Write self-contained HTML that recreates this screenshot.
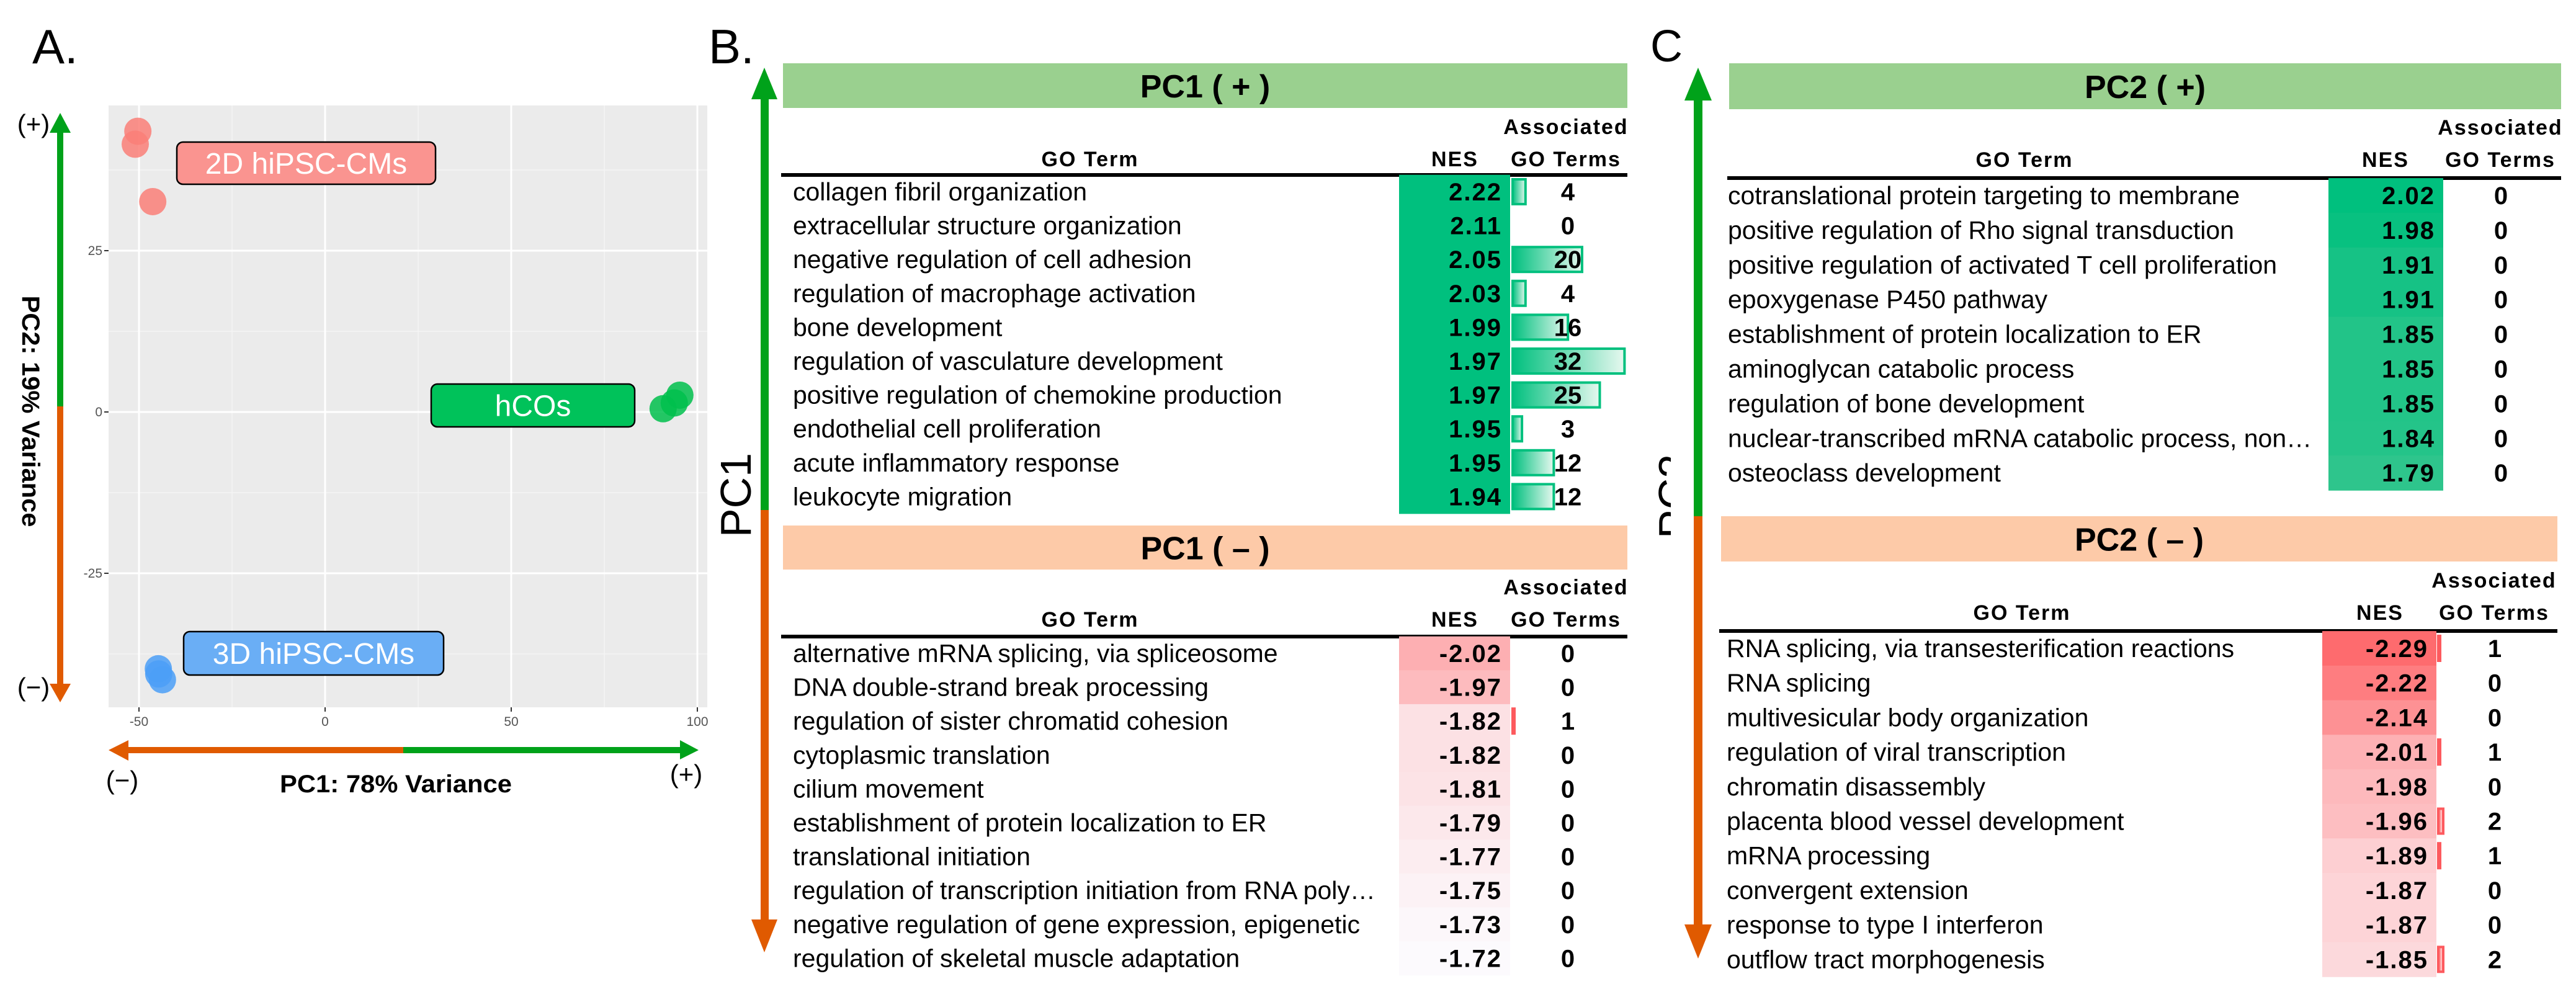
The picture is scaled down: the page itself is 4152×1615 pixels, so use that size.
<!DOCTYPE html>
<html><head><meta charset="utf-8"><style>
html,body{margin:0;padding:0;background:#fff;}
svg{display:block;font-family:"Liberation Sans",sans-serif;}
</style></head><body>
<svg id="fig" xmlns="http://www.w3.org/2000/svg" width="4152" height="1615" viewBox="0 0 4152 1615">
<rect x="0" y="0" width="4152" height="1615" fill="#fff"/>
<!-- Panel letters -->
<text x="52" y="102" font-size="78">A.</text>
<text x="1142" y="102" font-size="78">B.</text>
<text x="2660" y="99" font-size="72">C</text>

<!-- Panel A plot -->
<g id="pca">
<rect x="175" y="170" width="965" height="970" fill="#ebebeb"/>
<g id="grid"></g>
<g id="ticks"></g>
<g id="pts"></g>
<g id="labs"></g>
</g>
<!-- Panel A axes arrows -->
<g>
<rect x="92" y="212" width="10" height="445" fill="#00a21a"/>
<rect x="92" y="655" width="10" height="450" fill="#e05a00"/>
<polygon points="97,182 80,214 114,214" fill="#00a21a"/>
<polygon points="97,1132 80,1102 114,1102" fill="#e05a00"/>
</g>
<text x="54" y="214" font-size="42" text-anchor="middle">(+)</text>
<text x="54" y="1122" font-size="42" text-anchor="middle">(−)</text>
<text transform="translate(36,663) rotate(90)" font-size="40" font-weight="bold" text-anchor="middle" textLength="373" lengthAdjust="spacingAndGlyphs">PC2: 19% Variance</text>
<g>
<rect x="205" y="1204" width="447" height="10" fill="#e05a00"/>
<rect x="650" y="1204" width="450" height="10" fill="#00a21a"/>
<polygon points="175,1209 207,1193 207,1226" fill="#e05a00"/>
<polygon points="1126,1209 1096,1193 1096,1224" fill="#00a21a"/>
</g>
<text x="197" y="1272" font-size="42" text-anchor="middle">(−)</text>
<text x="1106" y="1262" font-size="42" text-anchor="middle">(+)</text>
<text x="638" y="1277" font-size="40" font-weight="bold" text-anchor="middle" textLength="374" lengthAdjust="spacingAndGlyphs">PC1: 78% Variance</text>

<!-- Panel B arrow -->
<g>
<rect x="1226" y="150" width="13" height="674" fill="#00a21a"/>
<rect x="1226" y="822" width="13" height="662" fill="#e05a00"/>
<polygon points="1232,109 1211,160 1253,160" fill="#00a21a"/>
<polygon points="1232,1535 1211,1482 1253,1482" fill="#e05a00"/>
</g>
<text transform="translate(1210,798) rotate(-90)" font-size="70" text-anchor="middle">PC1</text>

<!-- Panel C arrow -->
<g>
<rect x="2730" y="150" width="14" height="684" fill="#00a21a"/>
<rect x="2730" y="832" width="14" height="662" fill="#e05a00"/>
<polygon points="2737,109 2715,162 2759,162" fill="#00a21a"/>
<polygon points="2737,1545 2715,1490 2759,1490" fill="#e05a00"/>
</g>
<svg x="2660" y="700" width="33" height="200" overflow="hidden">
<text transform="translate(62,100) rotate(-90)" font-size="70" text-anchor="middle">PC2</text>
</svg>

<g id="tables"></g>
</svg>
<script>
// ---------- Panel A data ----------
const xTicks = [-50, 0, 50, 100];
const yTicks = [25, 0, -25];
const xMinor = [-25, 25, 75];
const yMinor = [37.5, 12.5, -12.5, -37.5];
const groups = ["2D hiPSC-CMs", "hCOs", "3D hiPSC-CMs"];
const pcX2D = [-50.3, -51.0, -46.3];
const pcY2D = [43.5, 41.5, 32.6];
const pcXhCO = [90.8, 95.3, 93.8];
const pcYhCO = [0.5, 2.6, 1.4];
const pcX3D = [-44.8, -43.7, -44.7];
const pcY3D = [-39.8, -41.5, -40.6];

// ---------- Table data ----------
const pc1PosTerms = ["collagen fibril organization","extracellular structure organization","negative regulation of cell adhesion","regulation of macrophage activation","bone development","regulation of vasculature development","positive regulation of chemokine production","endothelial cell proliferation","acute inflammatory response","leukocyte migration"];
const pc1PosNES = [2.22,2.11,2.05,2.03,1.99,1.97,1.97,1.95,1.95,1.94];
const pc1PosAssoc = [4,0,20,4,16,32,25,3,12,12];
const pc1NegTerms = ["alternative mRNA splicing, via spliceosome","DNA double-strand break processing","regulation of sister chromatid cohesion","cytoplasmic translation","cilium movement","establishment of protein localization to ER","translational initiation","regulation of transcription initiation from RNA poly…","negative regulation of gene expression, epigenetic","regulation of skeletal muscle adaptation"];
const pc1NegNES = [-2.02,-1.97,-1.82,-1.82,-1.81,-1.79,-1.77,-1.75,-1.73,-1.72];
const pc1NegAssoc = [0,0,1,0,0,0,0,0,0,0];
const pc2PosTerms = ["cotranslational protein targeting to membrane","positive regulation of Rho signal transduction","positive regulation of activated T cell proliferation","epoxygenase P450 pathway","establishment of protein localization to ER","aminoglycan catabolic process","regulation of bone development","nuclear-transcribed mRNA catabolic process, non…","osteoclass development"];
const pc2PosNES = [2.02,1.98,1.91,1.91,1.85,1.85,1.85,1.84,1.79];
const pc2PosAssoc = [0,0,0,0,0,0,0,0,0];
const pc2NegTerms = ["RNA splicing, via transesterification reactions","RNA splicing","multivesicular body organization","regulation of viral transcription","chromatin disassembly","placenta blood vessel development","mRNA processing","convergent extension","response to type I interferon","outflow tract morphogenesis"];
const pc2NegNES = [-2.29,-2.22,-2.14,-2.01,-1.98,-1.96,-1.89,-1.87,-1.87,-1.85];
const pc2NegAssoc = [1,0,0,1,0,2,1,0,0,2];

const NS = "http://www.w3.org/2000/svg";
function mk(parent, tag, attrs, txt){
  const e = document.createElementNS(NS, tag);
  for (const k in attrs) e.setAttribute(k, attrs[k]);
  if (txt !== undefined) e.textContent = txt;
  parent.appendChild(e);
  return e;
}
// axis functions
const sx = v => 524 + 6.0 * v;
const sy = v => 664 - 10.4 * v;

const grid = document.getElementById('grid');
xMinor.forEach(v => {
  const l = mk(grid, 'line', {x1:sx(v), x2:sx(v), y1:170, y2:1140, stroke:'#f5f5f5', 'stroke-width':1.5});
  
  
});
yMinor.forEach(v => {
  const l = mk(grid, 'line', {x1:175, x2:1140, y1:sy(v), y2:sy(v), stroke:'#f5f5f5', 'stroke-width':1.5});
  
  
});
const ticks = document.getElementById('ticks');
xTicks.forEach(v => {
  const l = mk(grid, 'line', {x1:sx(v), x2:sx(v), y1:170, y2:1140, stroke:'#fff', 'stroke-width':3});
  
  
  const t = mk(ticks, 'line', {x1:sx(v), x2:sx(v), y1:1140, y2:1147, stroke:'#333', 'stroke-width':2});
  
  
  const lb = mk(ticks, 'text', {x:sx(v), y:1170, 'font-size':21, fill:'#555', 'text-anchor':'middle'}, String(v));
  
  
});
yTicks.forEach(v => {
  const l = mk(grid, 'line', {x1:175, x2:1140, y1:sy(v), y2:sy(v), stroke:'#fff', 'stroke-width':3});
  
  
  const t = mk(ticks, 'line', {x1:168, x2:175, y1:sy(v), y2:sy(v), stroke:'#333', 'stroke-width':2});
  
  
  const lb = mk(ticks, 'text', {x:165, y:sy(v)+7, 'font-size':21, fill:'#555', 'text-anchor':'end'}, String(v));
  
  
});

const pts = document.getElementById('pts');
const series = [[pcX2D, pcY2D, '#fa7f78'], [pcXhCO, pcYhCO, '#00bf4c'], [pcX3D, pcY3D, '#4b9ff7']];
series.forEach((s, gi) => {
  s[0].forEach((xv, i) => {
    const c = mk(pts, 'circle', {cx:sx(xv), cy:sy(s[1][i]), r:22, fill:s[2], 'fill-opacity':0.85});
    
    
  });
});
// group labels
const labs = document.getElementById('labs');
const labBoxes = [[285,229,417,68,'#fa9490'],[695,619,328,69,'#00c25a'],[296,1018,419,70,'#6aaef5']];
groups.forEach((g, i) => {
  const b = labBoxes[i];
  const r = mk(labs, 'rect', {x:b[0], y:b[1], width:b[2], height:b[3], rx:10, fill:b[4], stroke:'#000', 'stroke-width':2.5});
  
  
  const t = mk(labs, 'text', {x:b[0]+b[2]/2, y:b[1]+b[3]/2+17, 'font-size':48, fill:'#fff', 'text-anchor':'middle'}, g);
  
  
});

// ---------- Tables ----------
const tables = document.getElementById('tables');
function mix(a, b, t){ return 'rgb(' + a.map((v,i)=>Math.round(v+(b[i]-v)*t)).join(',') + ')'; }
function negColor(v){ const t = Math.min(1, Math.max(0, (-v - 1.72) / 0.57)); return mix([252,250,253],[254,107,110],t); }
function pc1PosColor(v){ return 'rgb(0,192,126)'; }
function pc2PosColor(v){ const t = Math.min(1, Math.max(0,(v - 1.79)/0.23)); return mix([46,197,140],[0,192,126],t); }

function header(cfg, title){
  const h = mk(tables, 'rect', {x:cfg.hx1, y:cfg.hy, width:cfg.hx2-cfg.hx1, height:cfg.hh, fill:cfg.hcol});
  
  
  const ht = mk(tables, 'text', {x:(cfg.hx1+cfg.hx2)/2, y:cfg.hy+cfg.hh/2+19, 'font-size':52, 'font-weight':'bold', 'text-anchor':'middle'}, title);
  
  
  const a1 = mk(tables, 'text', {x:cfg.assocX, y:cfg.assocY+12, 'font-size':34, 'font-weight':'bold', 'text-anchor':'middle', 'letter-spacing':2}, 'Associated');
  
  
  const a2 = mk(tables, 'text', {x:cfg.assocX, y:cfg.assocY+64, 'font-size':34, 'font-weight':'bold', 'text-anchor':'middle', 'letter-spacing':2}, 'GO Terms');
  
  
  const g = mk(tables, 'text', {x:cfg.goX, y:cfg.assocY+64, 'font-size':34, 'font-weight':'bold', 'text-anchor':'middle', 'letter-spacing':2}, 'GO Term');
  
  
  const n = mk(tables, 'text', {x:cfg.nesX, y:cfg.assocY+64, 'font-size':34, 'font-weight':'bold', 'text-anchor':'middle', 'letter-spacing':2}, 'NES');
  
  
  const r = mk(tables, 'rect', {x:cfg.hx1-3, y:cfg.ruleY-3, width:cfg.hx2-cfg.hx1+3, height:6, fill:'#000'});
  
  
}

function rows(cfg, terms, nes, assoc, colorFn, barCol, barFill){
  terms.forEach((term, i) => {
    const cy = cfg.y0 + i * cfg.pitch;
    const cell = mk(tables, 'rect', {x:cfg.fx1, y:cy - cfg.pitch/2, width:cfg.fx2-cfg.fx1, height:cfg.pitch+0.6, fill:colorFn(nes[i])});
    
    
    const t = mk(tables, 'text', {x:cfg.tx, y:cy+14, 'font-size':41}, term);
    
    
    const v = mk(tables, 'text', {x:cfg.nesR, y:cy+14, 'font-size':40, 'font-weight':'bold', 'text-anchor':'end', 'letter-spacing':2}, nes[i].toFixed(2));
    
    
    if (assoc[i] > 0) {
      const w = assoc[i] * cfg.unit;
      const b = mk(tables, 'rect', {x:cfg.bx+2, y:cy-20, width:w-2, height:40, fill:barFill, stroke:barCol, 'stroke-width':4});
      
      
    }
    const a = mk(tables, 'text', {x:cfg.numX, y:cy+14, 'font-size':40, 'font-weight':'bold', 'text-anchor':'middle'}, String(assoc[i]));
    
    
  });
}

// gradient defs
const defs = mk(document.getElementById('fig'), 'defs', {});
const lg = mk(defs, 'linearGradient', {id:'gbar', x1:0, x2:1, y1:0, y2:0});
mk(lg, 'stop', {offset:'0', 'stop-color':'#00c07e'});
mk(lg, 'stop', {offset:'1', 'stop-color':'#e6f8ef'});
const lr = mk(defs, 'linearGradient', {id:'rbar', x1:0, x2:1, y1:0, y2:0});
mk(lr, 'stop', {offset:'0', 'stop-color':'#fd5a5e'});
mk(lr, 'stop', {offset:'1', 'stop-color':'#ffffff'});

const cfgB1 = {hx1:1262, hx2:2623, hy:102, hh:72, hcol:'#9ad08f', assocX:2524, assocY:204, goX:1757, nesX:2345, ruleY:282,
  y0:309, pitch:54.6, fx1:2255, fx2:2434, tx:1278, nesR:2421, bx:2436, unit:5.7, numX:2527};
const cfgB2 = {hx1:1262, hx2:2623, hy:847, hh:71, hcol:'#fdcaa8', assocX:2524, assocY:946, goX:1757, nesX:2345, ruleY:1026,
  y0:1053, pitch:54.6, fx1:2255, fx2:2434, tx:1278, nesR:2421, bx:2436, unit:5, numX:2527};
const cfgC1 = {hx1:2787, hx2:4128, hy:102, hh:74, hcol:'#9ad08f', assocX:4030, assocY:205, goX:3263, nesX:3845, ruleY:287,
  y0:315, pitch:55.9, fx1:3753, fx2:3938, tx:2785, nesR:3925, bx:3940, unit:5.7, numX:4031};
const cfgC2 = {hx1:2774, hx2:4122, hy:832, hh:73, hcol:'#fdcaa8', assocX:4020, assocY:935, goX:3259, nesX:3836, ruleY:1017,
  y0:1045, pitch:55.7, fx1:3743, fx2:3927, tx:2783, nesR:3914, bx:3928, unit:5, numX:4021};

header(cfgB1, 'PC1 ( + )');
rows(cfgB1, pc1PosTerms, pc1PosNES, pc1PosAssoc, pc1PosColor, '#00c07e', 'url(#gbar)');
header(cfgB2, 'PC1 ( – )');
rows(cfgB2, pc1NegTerms, pc1NegNES, pc1NegAssoc, negColor, '#fd5a5e', 'url(#rbar)');
header(cfgC1, 'PC2 ( +)');
rows(cfgC1, pc2PosTerms, pc2PosNES, pc2PosAssoc, pc2PosColor, '#00c07e', 'url(#gbar)');
header(cfgC2, 'PC2 ( – )');
rows(cfgC2, pc2NegTerms, pc2NegNES, pc2NegAssoc, negColor, '#fd5a5e', 'url(#rbar)');
</script>
</body></html>
